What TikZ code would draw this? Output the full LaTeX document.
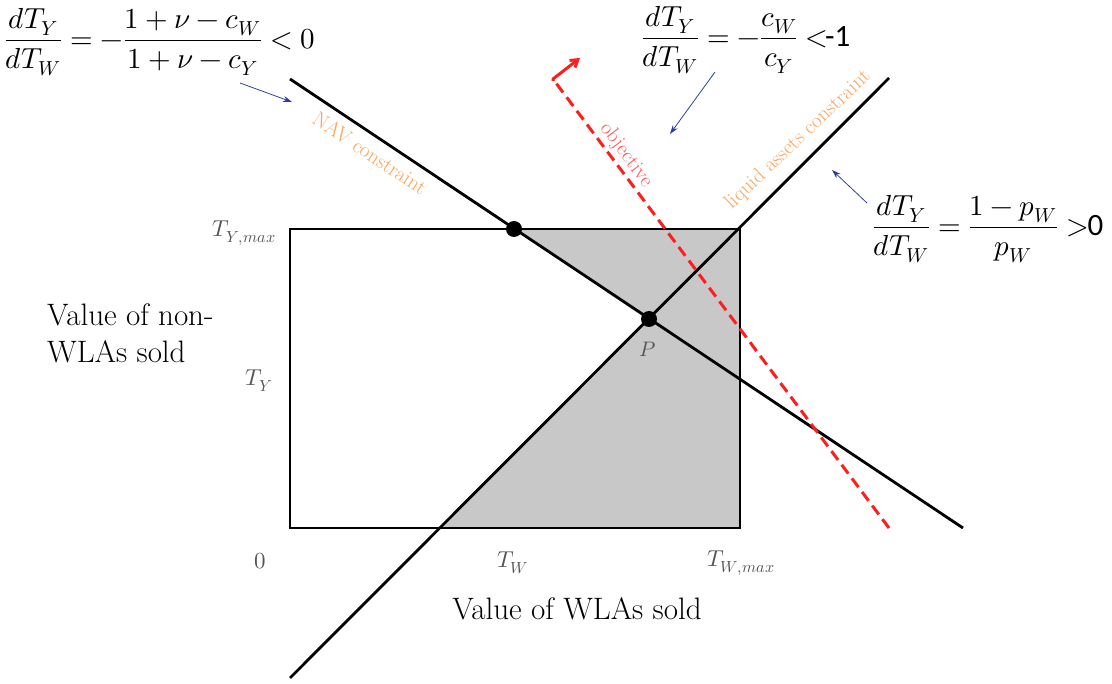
\documentclass[tikz,border=0pt]{standalone}
\usepackage{fontspec}
\usepackage{unicode-math}
\setmathfont{Latin Modern Math}
\newfontfamily\calfont{Carlito}
\usetikzlibrary{arrows.meta}
\definecolor{regionfill}{RGB}{200,200,200}
\definecolor{lblorange}{RGB}{250,165,95}
\definecolor{objred}{RGB}{255,30,30}
\definecolor{objtext}{RGB}{255,90,90}
\definecolor{arrblue}{RGB}{45,65,155}
\definecolor{axgray}{RGB}{85,85,85}
\begin{document}
\begin{tikzpicture}[x=1pt,y=-1pt,
  bline/.style={line width=2.8pt, black},
  dotnode/.style={circle, fill=black, inner sep=0pt, minimum size=16pt},
  axlbl/.style={text=axgray, font=\fontsize{23}{26}\selectfont, inner sep=0pt},
  conlbl/.style={text=lblorange, font=\fontsize{21}{24}\selectfont, inner sep=0pt},
  eqlbl/.style={font=\fontsize{29}{33}\selectfont, inner sep=0pt},
  txtlbl/.style={font=\fontsize{31}{37}\selectfont, inner sep=0pt},
  barrow/.style={arrblue, line width=0.8pt, -{Stealth[length=9pt,width=6pt]}}]
\useasboundingbox (0,0) rectangle (1112,684);
% shaded feasible region
\fill[regionfill] (514,229) -- (740,229) -- (740,528) -- (440,528) -- (649,319) -- cycle;
% rectangle
\draw[bline] (290,229) rectangle (740,528);
% constraint lines
\coordinate (nav1) at (290,79);
\coordinate (nav2) at (963,528);
\coordinate (liq1) at (290,678);
\coordinate (liq2) at (889,78);
\draw[bline] (nav1) -- (nav2);
\draw[bline] (liq1) -- (liq2);
% objective
\coordinate (obj1) at (889,528);
\coordinate (obj2) at (553,79);
\coordinate (obj3) at (580,58);
\draw[objred, line width=3pt, dash pattern=on 11pt off 6pt] (obj1) -- (obj2);
\draw[objred, line width=3pt, line join=round, -{Straight Barb[length=7pt,width=9pt]}] (553,81) -- (obj2) -- (obj3);
% dots
\node[dotnode] (q) at (514,229) {};
\node[dotnode] (p) at (649,319) {};
\node[axlbl, font=\fontsize{21}{24}\selectfont] (plbl) at (648,349) {$P$};
% axis labels
\node[axlbl, anchor=east] (tymax) at (276,233) {$T_{Y,max}$};
\node[axlbl] (ty) at (259,381) {$T_Y$};
\node[axlbl] (zero) at (260,561) {$0$};
\node[axlbl] (tw) at (513,563) {$T_W$};
\node[axlbl] (twmax) at (741,563) {$T_{W,max}$};
% constraint labels
\node[conlbl, rotate=-33.7] (navlbl) at (370,153) {NAV constraint};
\node[conlbl, rotate=43.5] (liqlbl) at (798,140) {liquid assets constraint};
\node[conlbl, text=objtext, rotate=-53.3] (objlbl) at (626,155) {objective};
% axis titles
\node[txtlbl, anchor=west, align=left] (ytitle) at (47,333) {Value of non-\\WLAs sold};
\node[txtlbl] (xtitle) at (577,609) {Value of WLAs sold};
% equations
\node[eqlbl] (eqnav) at (160,42) {$\displaystyle \frac{dT_Y}{dT_W} = -\frac{1+\nu-c_W}{1+\nu-c_Y} < 0$};
\node[eqlbl] (eqobj) at (746,40) {$\displaystyle \frac{dT_Y}{dT_W} = -\frac{c_W}{c_Y} <$\hspace{-3pt}{\calfont\fontsize{31}{34}\selectfont -1}};
\node[eqlbl] (eqliq) at (988,229) {$\displaystyle \frac{dT_Y}{dT_W} = \frac{1-p_W}{p_W} >$\hspace{-1pt}{\calfont\fontsize{31}{34}\selectfont 0}};
% blue arrows
\coordinate (a1s) at (240,83);
\coordinate (a1e) at (292,102);
\coordinate (a2s) at (715,72);
\coordinate (a2e) at (670,134);
\coordinate (a3s) at (867,203);
\coordinate (a3e) at (832,170);
\draw[barrow] (a1s) -- (a1e);
\draw[barrow] (a2s) -- (a2e);
\draw[barrow] (a3s) -- (a3e);
\end{tikzpicture}
\end{document}
